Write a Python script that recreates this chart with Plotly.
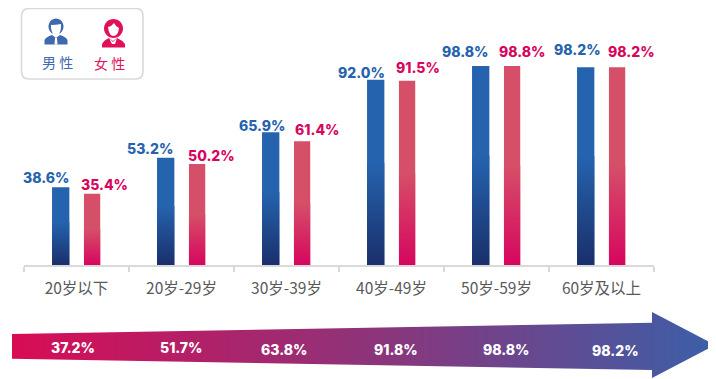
import plotly.graph_objects as go

categories = ["20岁以下", "20岁-29岁", "30岁-39岁", "40岁-49岁", "50岁-59岁", "60岁及以上"]
male = [38.6, 53.2, 65.9, 92.0, 98.8, 98.2]
female = [35.4, 50.2, 61.4, 91.5, 98.8, 98.2]
overall = [37.2, 51.7, 63.8, 91.8, 98.8, 98.2]

# The page adds an 8 px body margin, so the figure is 8 px smaller and the overlay axis starts at 8.
PAGE_W, PAGE_H, PAD = 716, 379, 8
W, H = PAGE_W - PAD, PAGE_H - PAD
MALE_TOP, FEMALE_TOP = "#2563ae", "#d54f68"
MALE_INK, FEMALE_INK = "#2563ae", "#d6065f"
LATIN = "Inter, 'Noto Sans CJK SC', sans-serif"
CJK = "'Noto Sans CJK SC', sans-serif"

fig = go.Figure()


def add_series(values, offset, width, top, bottom, fade_share):
    fig.add_bar(x=categories, y=values, offset=offset, width=width,
                marker=dict(color=top, line=dict(width=0)), hoverinfo="skip")
    for i, v in enumerate(values):
        x0, x1 = i + offset, i + offset + width
        fade = v * fade_share
        fig.add_scatter(x=[x0, x1, x1, x0, x0], y=[0, 0, fade, fade, 0], xaxis="x3", yaxis="y",
                        mode="none", fill="toself",
                        fillgradient=dict(type="vertical", start=0, stop=fade,
                                          colorscale=[[0, bottom], [1, top]]),
                        hoverinfo="skip", showlegend=False)


add_series(male, -0.233, 0.165, MALE_TOP, "#1a2f6b", 0.55)
add_series(female, 0.071, 0.155, FEMALE_TOP, "#d6065f", 0.5)

# Arrow, drawn in a page-sized overlay axis
arrow_x = [12, 652, 652, 715, 652, 652, 12, 12]
arrow_y = [334, 322.7, 312, 345, 378, 370, 358.7, 334]
fig.add_scatter(x=arrow_x, y=arrow_y, xaxis="x2", yaxis="y2", mode="none", fill="toself",
                fillgradient=dict(type="horizontal",
                                  colorscale=[[0, "#d80c55"], [0.5, "#8f3379"], [1, "#3b5fa8"]]),
                hoverinfo="skip", showlegend=False)

annotations = []
male_dx = [-31, -32, -25, -30, -31, -24.5]
female_dx = [28, 30, 30.5, 26.5, 25.5, 29.5]
male_dy = [-3, -3, -6, -5, 2, 5]
female_dy = [-3, -4, -1, 1, 2, 3]
for i, c in enumerate(categories):
    annotations.append(dict(x=c, y=male[i], xref="x", yref="y", text=f"{male[i]:.1f}%", showarrow=False,
                            xshift=male_dx[i], yshift=2 + male_dy[i], yanchor="bottom",
                            font=dict(family=LATIN, size=14, color=MALE_INK, weight=800)))
    annotations.append(dict(x=c, y=female[i], xref="x", yref="y", text=f"{female[i]:.1f}%", showarrow=False,
                            xshift=female_dx[i], yshift=2 + female_dy[i], yanchor="bottom",
                            font=dict(family=LATIN, size=14, color=FEMALE_INK, weight=800)))

arrow_label_x = [73, 181, 284, 396, 506, 615]
arrow_label_y = [347, 347, 349, 349, 349, 350]
for v, ax, ay in zip(overall, arrow_label_x, arrow_label_y):
    annotations.append(dict(x=ax, y=ay, xref="x2", yref="y2", text=f"{v:.1f}%", showarrow=False,
                            font=dict(family=LATIN, size=14, color="white", weight=800)))

annotations.append(dict(x=57, y=62, xref="x2", yref="y2", text="男 性", showarrow=False,
                        font=dict(family=CJK, size=14, color="#3f68ad")))
annotations.append(dict(x=109, y=63, xref="x2", yref="y2", text="女 性", showarrow=False,
                        font=dict(family=CJK, size=14, color="#e0105a")))


def sh(path, fill, line=None, lw=0):
    return dict(type="path", xref="x2", yref="y2", path=path, fillcolor=fill,
                line=dict(color=line or fill, width=lw), layer="above")


def ell(cx, cy, rx, ry):
    k = 0.5523
    return (f"M{cx - rx} {cy} C{cx - rx} {cy - k * ry} {cx - k * rx} {cy - ry} {cx} {cy - ry} "
            f"C{cx + k * rx} {cy - ry} {cx + rx} {cy - k * ry} {cx + rx} {cy} "
            f"C{cx + rx} {cy + k * ry} {cx + k * rx} {cy + ry} {cx} {cy + ry} "
            f"C{cx - k * rx} {cy + ry} {cx - rx} {cy + k * ry} {cx - rx} {cy} Z")


shapes = [
    # legend box
    sh("M29 8.5 L136 8.5 Q143 8.5 143 16 L143 71 Q143 79 136 79 L29 79 Q21.5 79 21.5 71 L21.5 16 Q21.5 8.5 29 8.5 Z",
       "white", "#d9d9d9", 1.6),
    # male icon
    sh("M44.5 44.5 L44.5 40 Q46 37 52 35 L56 38 L60 35 Q66 37 67.5 40 L67.5 44.5 Z", "#3f68ad"),
    sh("M55 38 L57 38 L57.5 44.5 L54.5 44.5 Z", "white"),
    sh(ell(56, 26.5, 7.5, 8), "#3f68ad"),
    sh("M51 25 Q56 25 61 24 L61 28 Q60 35.5 56 35.5 Q52 35.5 51 28 Z", "white"),
    # female icon
    sh("M102 47.5 L102 44 Q104 40 109 38 L113 41 L117 38 Q122 40 125 44 L125 47.5 Z", "#e0105a"),
    sh(ell(113.5, 28.5, 9.5, 9.5), "#e0105a"),
    sh("M108 27 Q112 26 114 23 Q116 27 119 28 Q118 36 113.5 36 Q109 36 108 27 Z", "white"),
    sh("M109 38 L113 42 L117 38 L115 44 L112 44 Z", "white"),
]

fig.update_layout(
    width=W, height=H, margin=dict(l=0, r=0, t=0, b=0),
    barmode="overlay", showlegend=False, paper_bgcolor="white", plot_bgcolor="rgba(0,0,0,0)",
    xaxis=dict(domain=[(24 - PAD) / W, (654 - PAD) / W], type="category", categoryorder="array",
               categoryarray=categories, range=[-0.5, 5.5],
               tickson="boundaries", ticks="outside", ticklen=5, tickwidth=2, tickcolor="#d9d9d9",
               showline=True, linecolor="#d9d9d9", linewidth=2, showgrid=False, anchor="y",
               tickfont=dict(family=CJK, size=15.5, color="#595959"), ticklabelstandoff=8),
    yaxis=dict(domain=[(PAGE_H - 265) / H, (PAGE_H - 12) / H], range=[0, 253 / 2.014], visible=False, anchor="x"),
    xaxis2=dict(domain=[0, 1], range=[PAD, PAGE_W], visible=False, anchor="y2"),
    yaxis2=dict(domain=[0, 1], range=[PAGE_H, PAD], visible=False, anchor="x2"),
    xaxis3=dict(domain=[(24 - PAD) / W, (654 - PAD) / W], range=[-0.5, 5.5], visible=False,
                anchor="y", overlaying="x"),
    annotations=annotations, shapes=shapes,
)

fig.write_html("out.html")
